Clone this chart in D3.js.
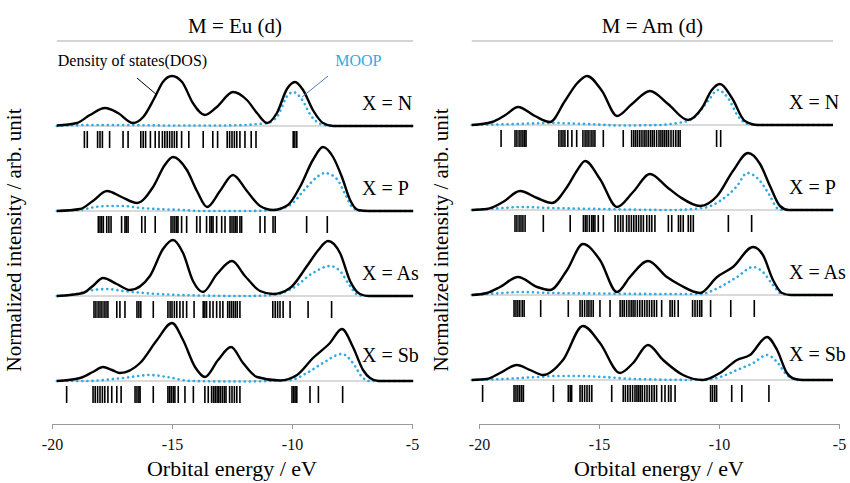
<!DOCTYPE html>
<html>
<head>
<meta charset="utf-8">
<script src="https://cdn.jsdelivr.net/npm/d3@7"></script>
<style>
  body { margin: 0; background: #fff; }
  svg { display: block; }
</style>
</head>
<body>
<svg width="850" height="483"></svg>
<script>
// rows of each panel, top to bottom
const ligands = ["N", "P", "As", "Sb"];
const xTicks = [-20, -15, -10, -5];

// energy span of each panel's baseline (eV)
const euRange = [-19.8, -4.95];
const amRange = [-20.3, -5.25];

// density of states, [energy eV, intensity arb.]
const euDosN = [[-19.8,0.5],[-18.96,3],[-18.42,11],[-17.79,18],[-17.25,13],[-16.63,3],[-16.2,9],[-15.71,29],[-15.38,44],[-15.0,50],[-14.58,44],[-14.13,23],[-13.63,11],[-13.13,19],[-12.46,34],[-11.88,26],[-11.46,13],[-11.04,3],[-10.63,13],[-10.21,37],[-9.875,44],[-9.54,36],[-9.13,16],[-8.71,3],[-8.29,0],[-4.95,0]];
const euDosP = [[-19.8,0],[-18.83,2],[-18.3,10],[-17.71,20],[-17.1,14],[-16.46,8],[-15.79,24],[-15.3,46],[-14.96,54],[-14.38,41],[-13.96,20],[-13.54,4],[-13.0,20],[-12.46,36],[-11.88,20],[-11.33,5],[-10.79,1],[-10.17,6],[-9.67,24],[-9.13,51],[-8.71,64],[-8.29,54],[-7.92,34],[-7.58,11],[-7.25,1],[-6.8,0],[-4.95,0]];
const euDosAs = [[-19.8,0],[-18.71,3],[-18.3,10],[-17.875,18],[-17.3,12],[-16.75,6],[-15.92,20],[-15.375,47],[-14.96,56],[-14.54,43],[-14.125,15],[-13.71,4],[-13.125,22],[-12.5,35],[-11.96,20],[-11.33,5],[-10.79,2],[-10.08,8],[-9.375,30],[-8.9,46],[-8.5,55],[-8.0,43],[-7.58,15],[-7.17,2],[-6.8,0],[-4.95,0]];
const euDosSb = [[-19.8,0],[-18.83,3],[-18.3,9],[-17.875,14],[-17.5,11],[-17.17,8],[-16.33,18],[-15.625,41],[-15.0,58],[-14.54,41],[-14.04,14],[-13.625,4],[-13.08,21],[-12.54,34],[-12.04,18],[-11.46,4],[-10.5,0.5],[-9.79,6],[-9.125,23],[-8.42,38],[-7.92,52],[-7.46,34],[-7.04,11],[-6.75,3],[-6.4,0],[-4.95,0]];

const amDosN = [[-20.3,0],[-19.46,3],[-18.9,10],[-18.375,18],[-17.67,9],[-17.04,3],[-16.42,24],[-15.9,42],[-15.5,49],[-14.875,34],[-14.25,9],[-13.625,21],[-12.875,34],[-12.125,21],[-11.29,5],[-10.71,17],[-10.3,35],[-9.96,41],[-9.46,27],[-8.92,4],[-8.375,0],[-5.25,0]];
const amDosP = [[-20.3,0],[-19.67,1],[-19.0,8],[-18.29,19],[-17.58,12],[-16.96,7],[-16.33,23],[-15.9,40],[-15.58,49],[-14.96,31],[-14.25,3],[-13.58,18],[-12.875,36],[-12.17,23],[-11.625,13],[-10.79,4],[-10.08,14],[-9.42,39],[-8.79,57],[-8.29,46],[-7.875,24],[-7.46,4],[-7.1,0],[-5.25,0]];
const amDosAs = [[-20.3,0],[-19.67,2],[-19.125,8],[-18.375,18],[-17.58,8],[-17.04,5],[-16.33,25],[-15.67,51],[-14.96,35],[-14.25,3],[-13.71,18],[-12.96,34],[-12.17,18],[-11.625,10],[-10.79,2],[-10.08,18],[-9.42,28],[-8.58,48],[-8.17,40],[-7.75,15],[-7.375,2],[-7.0,0],[-5.25,0]];
const amDosSb = [[-20.3,0],[-19.67,1],[-19.125,7],[-18.42,15],[-17.875,10],[-17.33,5],[-16.5,20],[-15.67,54],[-14.96,37],[-14.125,7],[-13.58,17],[-12.96,35],[-12.33,20],[-11.5,5],[-10.67,0],[-9.96,7],[-9.25,20],[-8.71,25],[-8.0,43],[-7.58,30],[-7.17,7],[-6.83,1],[-6.5,0],[-5.25,0]];

// MOOP, [energy eV, intensity arb.]
const euMoopN = [[-19.8,0],[-18.5,1],[-17,1],[-15,0.5],[-13,0.5],[-12,1],[-11.4,2],[-11.0,3],[-10.6,10],[-10.2,30],[-9.95,34],[-9.6,27],[-9.2,10],[-8.8,2],[-8.3,0],[-4.95,0]];
const euMoopP = [[-19.8,0],[-18.83,1],[-18.2,4],[-17.71,5],[-17.04,5],[-16.3,3],[-15.63,2],[-14.5,1],[-13.83,0],[-12,0],[-10.79,1],[-10.08,6],[-9.38,24],[-8.9,35],[-8.63,38],[-8.13,32],[-7.79,17],[-7.46,3],[-7.1,0],[-4.95,0]];
const euMoopAs = [[-19.8,0],[-19.0,2],[-18.5,5],[-17.71,7],[-17.04,5],[-15.6,2],[-13.8,0.5],[-12,0],[-10.79,1],[-9.96,8],[-9.13,23],[-8.42,30],[-8.0,25],[-7.58,10],[-7.25,1],[-6.9,0],[-4.95,0]];
const euMoopSb = [[-19.8,0],[-18.6,0],[-17.04,3],[-15.9,6],[-15.2,4],[-14.2,0],[-12.2,-0.5],[-10.08,1],[-9.38,8],[-8.71,18],[-7.92,27],[-7.46,18],[-7.08,4],[-6.8,0],[-4.95,0]];

const amMoopN = [[-20.3,0],[-18.5,1],[-17,2],[-15.5,1],[-14,-0.5],[-12.5,0],[-12,1],[-11.71,2],[-11.125,6],[-10.46,24],[-10.04,35],[-9.625,27],[-9.21,9],[-8.79,1],[-8.4,0],[-5.25,0]];
const amMoopP = [[-20.3,0],[-19.0,2],[-18.29,3],[-16.96,2],[-14.9,1],[-12,0],[-10.67,2],[-9.96,9],[-9.25,24],[-8.83,37],[-8.29,29],[-7.875,14],[-7.58,2],[-7.3,0],[-5.25,0]];
const amMoopAs = [[-20.3,0],[-19.0,2],[-18.3,3],[-17.0,2],[-15,1.5],[-12,1],[-10.79,1],[-9.96,8],[-9.25,18],[-8.58,28],[-8.17,23],[-7.75,10],[-7.375,1],[-7.0,0],[-5.25,0]];
const amMoopSb = [[-20.3,0],[-19.0,1],[-17.58,3],[-16.75,4],[-15.9,4],[-14.83,3],[-13.5,1],[-10.67,0],[-9.96,3],[-9.25,10],[-8.58,17],[-8.0,25],[-7.58,18],[-7.17,5],[-6.9,1],[-6.6,0],[-5.25,0]];

// orbital energy levels (eV)
const euSticksN = [-18.65,-18.53,-18.1,-18.0,-17.9,-17.6,-17.04,-16.83,-16.3,-16.2,-16.1,-15.9,-15.7,-15.54,-15.4,-15.3,-15.2,-15.1,-15.0,-14.9,-14.8,-14.6,-14.3,-13.7,-13.3,-13.1,-12.7,-12.6,-12.5,-12.4,-12.3,-12.17,-11.96,-11.7,-11.5,-9.95,-9.88,-9.8];
const euSticksP = [-18.07,-18.0,-17.93,-17.86,-17.72,-17.63,-17.54,-17.1,-16.96,-16.9,-16.83,-16.26,-16.12,-15.7,-15.04,-14.96,-14.88,-14.8,-14.75,-14.6,-14.39,-13.97,-13.83,-13.56,-13.42,-13.35,-13.29,-13.14,-12.93,-12.79,-12.58,-12.5,-12.42,-12.35,-12.29,-12.17,-12.1,-11.33,-11.13,-10.79,-10.7,-9.39,-8.53];
const euSticksAs = [-18.25,-18.17,-18.08,-18.0,-17.92,-17.83,-17.75,-17.67,-17.3,-17.17,-16.96,-16.46,-16.38,-16.3,-15.78,-15.17,-15.08,-15.0,-14.9,-14.8,-14.67,-14.54,-14.39,-14.08,-13.7,-13.63,-13.56,-13.42,-13.29,-13.14,-13.0,-12.88,-12.68,-12.6,-12.52,-12.44,-12.36,-12.28,-12.17,-10.8,-10.7,-10.6,-10.5,-10.37,-10.08,-9.33,-8.35];
const euSticksSb = [-19.39,-18.29,-18.2,-18.1,-18.0,-17.9,-17.8,-17.67,-17.51,-17.3,-17.12,-16.54,-16.46,-16.38,-16.33,-15.78,-15.17,-15.1,-15.03,-14.95,-14.88,-14.74,-14.46,-14.11,-13.63,-13.49,-13.35,-13.27,-13.2,-13.12,-13.05,-12.98,-12.9,-12.82,-12.75,-12.6,-12.5,-12.4,-12.3,-12.17,-10.0,-9.93,-9.87,-9.8,-9.25,-8.9,-7.89];

const amSticksN = [-19.08,-18.5,-18.42,-18.33,-18.25,-18.17,-18.1,-18.04,-16.67,-16.58,-16.5,-16.42,-16.3,-16.13,-15.93,-15.67,-15.58,-15.5,-15.42,-15.33,-15.25,-15.17,-14.82,-13.99,-13.64,-13.55,-13.47,-13.39,-13.3,-13.21,-13.12,-13.04,-12.95,-12.86,-12.78,-12.7,-12.6,-12.5,-12.42,-12.34,-12.26,-12.18,-12.1,-12.0,-11.9,-11.8,-11.7,-11.62,-10.1,-9.93];
const amSticksP = [-18.5,-18.42,-18.33,-18.25,-18.17,-18.08,-17.32,-16.2,-15.65,-15.57,-15.5,-15.4,-15.3,-15.24,-15.17,-15.03,-14.82,-14.33,-14.21,-14.1,-14.0,-13.85,-13.75,-13.65,-13.55,-13.45,-13.35,-13.25,-13.15,-13.01,-12.9,-12.8,-12.67,-12.11,-11.97,-11.69,-11.6,-11.49,-11.28,-11.18,-11.07,-9.61,-8.64];
const amSticksAs = [-18.54,-18.46,-18.38,-18.3,-18.2,-18.12,-17.43,-16.28,-15.79,-15.7,-15.6,-15.5,-15.42,-15.33,-15.24,-14.96,-14.54,-14.12,-14.03,-13.95,-13.85,-13.75,-13.66,-13.58,-13.5,-13.4,-13.3,-13.2,-13.1,-13.0,-12.9,-12.8,-12.7,-12.6,-12.39,-12.04,-11.95,-11.85,-11.7,-11.1,-11.0,-10.9,-10.8,-10.72,-10.35,-9.51,-8.53];
const amSticksSb = [-19.85,-18.54,-18.46,-18.38,-18.3,-18.22,-18.15,-16.9,-16.28,-16.2,-16.14,-15.79,-15.7,-15.6,-15.5,-15.4,-15.3,-14.47,-13.99,-13.9,-13.8,-13.7,-13.6,-13.5,-13.42,-13.35,-13.28,-13.2,-13.1,-13.0,-12.9,-12.8,-12.7,-12.6,-12.39,-12.25,-12.1,-12.0,-11.83,-10.35,-10.27,-10.18,-10.1,-9.47,-9.05,-7.92];

const panels = [
    { title: "M = Eu (d)", range: euRange, left: 52, top: 126,
      dos: [euDosN, euDosP, euDosAs, euDosSb],
      moop: [euMoopN, euMoopP, euMoopAs, euMoopSb],
      sticks: [euSticksN, euSticksP, euSticksAs, euSticksSb] },
    { title: "M = Am (d)", range: amRange, left: 479, top: 125,
      dos: [amDosN, amDosP, amDosAs, amDosSb],
      moop: [amMoopN, amMoopP, amMoopAs, amMoopSb],
      sticks: [amSticksN, amSticksP, amSticksAs, amSticksSb] }
];

const serif = '"Liberation Serif", serif';
const svg = d3.select("svg");
const rowGap = 85;
const moopColor = "#2eaae4";

panels.forEach((p, pi) => {
    const x = d3.scaleLinear().domain([-20, -5]).range([p.left, p.left + 360]);
    const g = svg.append("g").attr("class", "panel");

    // header
    g.append("text")
        .attr("x", (x(p.range[0]) + x(p.range[1])) / 2)
        .attr("y", 33)
        .attr("text-anchor", "middle")
        .style("font-family", serif)
        .style("font-size", "21px")
        .text(p.title);
    g.append("line")
        .attr("x1", x(p.range[0])).attr("x2", x(p.range[1]))
        .attr("y1", 41).attr("y2", 41)
        .attr("stroke", "#aaa").attr("stroke-width", 1);

    ligands.forEach((lig, i) => {
        const base = p.top + i * rowGap;
        const y = d3.scaleLinear().domain([0, 60]).range([base, base - 60]);
        const line = d3.line()
            .x(d => x(d[0]))
            .y(d => y(d[1]))
            .curve(d3.curveMonotoneX);

        g.append("line")
            .attr("x1", x(p.range[0])).attr("x2", x(p.range[1]))
            .attr("y1", base).attr("y2", base)
            .attr("stroke", "#b5b5b5").attr("stroke-width", 1);

        g.append("g").selectAll("line")
            .data(p.sticks[i])
            .enter()
            .append("line")
            .attr("x1", d => x(d)).attr("x2", d => x(d))
            .attr("y1", base + 5).attr("y2", base + 22)
            .attr("stroke", "#000").attr("stroke-width", 1.6);

        g.append("path")
            .datum(p.moop[i])
            .attr("d", line)
            .attr("fill", "none")
            .attr("stroke", moopColor)
            .attr("stroke-width", 2.6)
            .attr("stroke-linecap", "round")
            .attr("stroke-dasharray", "0.1 5");

        g.append("path")
            .datum(p.dos[i])
            .attr("d", line)
            .attr("fill", "none")
            .attr("stroke", "#000")
            .attr("stroke-width", 2.4)
            .attr("stroke-linejoin", "round");

        g.append("text")
            .attr("x", x(-20) + 310)
            .attr("y", base - (lig === "Sb" ? 19 : 16))
            .style("font-family", serif)
            .style("font-size", "20px")
            .text("X = " + lig);

        // callouts on the first row of the left panel
        if (pi === 0 && i === 0) {
            g.append("text")
                .attr("x", x(p.range[0]) + 1).attr("y", 66)
                .style("font-family", serif)
                .style("font-size", "16px")
                .text("Density of states(DOS)");
            g.append("line")
                .attr("x1", x(-16.46)).attr("y1", y(48))
                .attr("x2", x(-15.625)).attr("y2", y(31))
                .attr("stroke", "#000").attr("stroke-width", 1);
            g.append("text")
                .attr("x", x(-8.2)).attr("y", 66)
                .style("font-family", serif)
                .style("font-size", "16px")
                .attr("fill", moopColor)
                .text("MOOP");
            g.append("line")
                .attr("x1", x(-8.5)).attr("y1", y(50))
                .attr("x2", x(-9.58)).attr("y2", y(29))
                .attr("stroke", "#4d7fb8").attr("stroke-width", 1);
        }
    });

    // bottom axis
    const axis = g.append("g")
        .attr("transform", "translate(0,424)")
        .call(d3.axisBottom(x).tickValues(xTicks).tickSize(5).tickPadding(10).tickFormat(d => String(d)));
    axis.selectAll("path, line").attr("stroke", "#999");
    axis.selectAll("text")
        .style("font-family", serif)
        .style("font-size", "16px")
        .attr("fill", "#111");

    g.append("text")
        .attr("x", x(-12.5))
        .attr("y", 476)
        .attr("text-anchor", "middle")
        .style("font-family", serif)
        .style("font-size", "22px")
        .text("Orbital energy / eV");

    g.append("text")
        .attr("transform", `translate(${p.left - 31},240) rotate(-90)`)
        .attr("text-anchor", "middle")
        .style("font-family", serif)
        .style("font-size", "21px")
        .text("Normalized intensity / arb. unit");
});
</script>
</body>
</html>
